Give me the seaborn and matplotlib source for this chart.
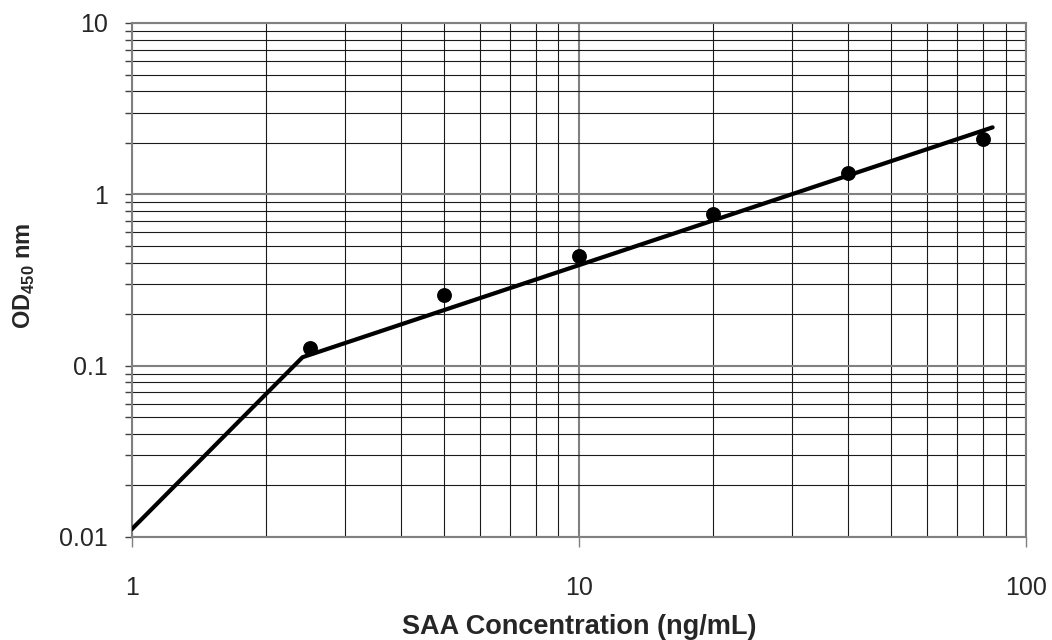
import matplotlib
matplotlib.use("Agg")
import matplotlib.pyplot as plt
import matplotlib.ticker as mticker
import seaborn as sns

# Data
conc = [2.5, 5, 10, 20, 40, 80]
od = [0.126, 0.259, 0.439, 0.768, 1.33, 2.10]
fit_x = [1, 2.41, 84.2]
fit_y = [0.0111, 0.112, 2.46]
x_ticks = [1, 10, 100]
x_tick_labels = ["1", "10", "100"]
y_ticks = [0.01, 0.1, 1, 10]
y_tick_labels = ["0.01", "0.1", "1", "10"]

sns.set_style("white")
plt.rcParams['font.family'] = ['Liberation Sans', 'DejaVu Sans']
plt.rcParams['mathtext.fontset'] = 'custom'
plt.rcParams['mathtext.rm'] = 'Liberation Sans:bold'
plt.rcParams['mathtext.bf'] = 'Liberation Sans:bold'

fig = plt.figure(figsize=(10.52, 6.4), dpi=100)
ax = fig.add_axes([131.7/1052, 1 - 537/640, (1026-131.7)/1052, (537-23)/640])

ax.set_xscale('log')
ax.set_yscale('log')
ax.set_xlim(1, 100)
ax.set_ylim(0.01, 10)

ax.xaxis.set_minor_locator(mticker.LogLocator(base=10, subs=range(2, 10)))
ax.yaxis.set_minor_locator(mticker.LogLocator(base=10, subs=range(2, 10)))
ax.grid(True, which='minor', color='#1a1a1a', linewidth=0.8, zorder=0)
ax.grid(True, which='major', color='#808080', linewidth=1.5, zorder=0)
ax.set_axisbelow(True)

sns.lineplot(x=fit_x, y=fit_y, ax=ax, color='black', linewidth=3, sort=False, zorder=3)
sns.scatterplot(x=conc, y=od, ax=ax, color='black', s=115, linewidth=0, zorder=4)

ax.set_xticks(x_ticks)
ax.set_xticklabels(x_tick_labels)
ax.set_yticks(y_ticks)
ax.set_yticklabels(y_tick_labels)
ax.xaxis.set_minor_formatter(mticker.NullFormatter())
ax.yaxis.set_minor_formatter(mticker.NullFormatter())

ax.tick_params(axis='x', which='major', direction='out', length=7, width=1, color='#808080',
               labelsize=18, pad=21, bottom=True)
ax.tick_params(axis='x', which='minor', bottom=False)
ax.tick_params(axis='y', which='both', direction='out', length=5, width=1, color='#404040',
               labelsize=18, pad=12, left=True)

for s in ax.spines.values():
    s.set_color('#808080')
    s.set_linewidth(1.5)

ax.set_xlabel("SAA Concentration (ng/mL)", fontsize=19.5, fontweight='bold', labelpad=10)
ax.set_ylabel(r"OD$_{\mathbf{450}}$ nm", fontsize=17, fontweight='bold', labelpad=16)
ax.yaxis.label.set_y(0.509)

fig.savefig("out.png", dpi=100)
